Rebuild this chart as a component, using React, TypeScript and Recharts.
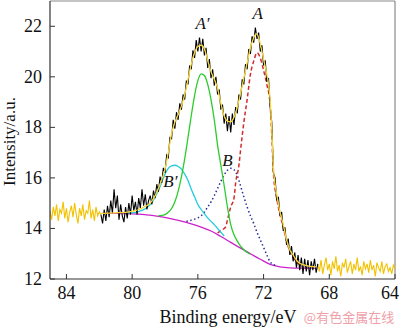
import React from 'react';
import { LineChart, Line, XAxis, YAxis, ReferenceLine, ReferenceDot } from 'recharts';

const SERIF = '"Liberation Serif", "Times New Roman", serif';

const xTicks = [84, 80, 76, 72, 68, 64];
const yTicks = [12, 14, 16, 18, 20, 22];

// raw spectrum, 0.1 eV steps from high to low binding energy
const rawLeftStart = 85.0;
const rawLeft = [
  14.7, 14.35, 14.85, 14.5, 14.95, 14.3, 14.75, 14.6, 15.05, 14.4,
  14.8, 14.25, 14.65, 14.9, 14.45, 15.0, 14.55, 14.2, 14.8, 14.5,
  14.95, 14.35, 14.7, 14.6, 15.1, 14.4, 14.75, 14.3, 14.85, 14.5,
  14.65, 14.55,
];

const rawMainStart = 81.9;
const rawMain = [
  14.55, 14.2, 14.75, 14.3, 14.9, 14.45, 15.1, 14.6, 15.55, 14.8,
  15.3, 14.35, 14.95, 14.5, 14.25, 14.85, 14.4, 15.0, 14.55, 15.3,
  14.7, 15.05, 14.55, 15.2, 14.8, 15.55, 14.9, 15.35, 14.75, 15.1,
  15.3, 14.95, 15.5, 15.2, 15.75, 15.45, 16.05, 15.8, 16.4, 16.2,
  16.9, 16.8, 17.6, 17.55, 18.3, 17.95, 18.6, 18.3, 18.95, 18.7,
  19.3, 19.1, 19.85, 19.7, 20.45, 20.3, 21.05, 20.75, 21.45, 21.0,
  21.55, 21.0, 21.5, 20.85, 21.15, 20.35, 20.7, 19.95, 20.3, 19.65,
  20.0, 19.3, 19.5, 18.7, 18.9, 18.15, 18.55, 17.85, 18.45, 17.8,
  18.55, 18.1, 18.8, 18.55, 19.3, 19.1, 19.9, 19.7, 20.5, 20.3,
  21.1, 20.9, 21.6, 21.35, 21.95, 21.5, 21.75, 21.0, 21.25, 20.45,
  20.65, 19.8, 19.95, 18.8, 18.2, 16.2, 16.0, 15.1, 15.25, 14.5,
  14.65, 13.9, 14.05, 13.35, 13.6, 12.95, 13.3, 12.7, 13.05, 12.45,
  12.95, 12.35, 12.85, 12.2, 12.8, 12.3, 12.75, 12.15, 12.7, 12.35,
  12.8, 12.25, 12.6,
];

const rawRightStart = 68.7;
const rawRight = [
  12.6, 12.3, 12.75, 12.2, 12.55, 12.85, 12.35, 12.6, 12.15, 12.7,
  12.4, 12.9, 12.3, 12.55, 12.1, 12.65, 12.45, 12.8, 12.25, 12.5,
  12.7, 12.2, 12.6, 12.35, 12.85, 12.3, 12.5, 12.15, 12.7, 12.4,
  12.6, 12.25, 12.75, 12.35, 12.55, 12.1, 12.65, 12.45, 12.3, 12.7,
  12.2, 12.5, 12.6, 12.3, 12.45, 12.2, 12.55, 12.4,
];

// fitted envelope and components: [binding energy, intensity]
const fitted = [
  [81.9, 14.6], [81.0, 14.62], [80.4, 14.64], [80.0, 14.68], [79.6, 14.75],
  [79.2, 14.87], [78.9, 15.0], [78.6, 15.3], [78.3, 15.75], [78.0, 16.35],
  [77.8, 17.0], [77.6, 17.75], [77.4, 18.2], [77.2, 18.5], [77.0, 18.85],
  [76.8, 19.3], [76.6, 19.9], [76.4, 20.5], [76.2, 20.95], [76.0, 21.2],
  [75.8, 21.25], [75.6, 21.1], [75.4, 20.65], [75.2, 20.2], [75.0, 19.9],
  [74.8, 19.55], [74.6, 18.95], [74.4, 18.45], [74.2, 18.25], [74.0, 18.22],
  [73.8, 18.4], [73.6, 18.8], [73.4, 19.35], [73.2, 19.95], [73.0, 20.55],
  [72.8, 21.15], [72.6, 21.55], [72.45, 21.7], [72.3, 21.55], [72.1, 21.0],
  [71.9, 20.4], [71.7, 19.7], [71.6, 19.1], [71.5, 17.9], [71.4, 16.4],
  [71.3, 15.75], [71.2, 15.35], [71.0, 14.65], [70.8, 14.15], [70.6, 13.55],
  [70.4, 13.15], [70.2, 12.95], [70.0, 12.75], [69.8, 12.62], [69.5, 12.55],
  [69.2, 12.5], [68.8, 12.48],
];

const background = [
  [81.8, 14.6], [81.2, 14.6], [80.6, 14.59], [80.0, 14.58], [79.4, 14.56],
  [78.8, 14.52], [78.2, 14.46], [77.6, 14.38], [77.0, 14.29], [76.4, 14.18],
  [75.8, 14.05], [75.2, 13.9], [74.6, 13.68], [74.0, 13.45], [73.4, 13.22],
  [72.8, 13.0], [72.2, 12.78], [71.6, 12.58], [71.0, 12.48], [70.4, 12.44],
  [69.8, 12.43], [69.2, 12.43], [68.8, 12.43],
];

const peakA2 = [
  [78.4, 14.5], [78.0, 14.55], [77.8, 14.64], [77.6, 14.79], [77.4, 15.06],
  [77.2, 15.47], [77.0, 16.04], [76.8, 16.76], [76.6, 17.6], [76.4, 18.47],
  [76.2, 19.26], [76.0, 19.85], [75.8, 20.12], [75.6, 20.05], [75.4, 19.7],
  [75.2, 19.1], [75.0, 18.3], [74.8, 17.3], [74.6, 16.5], [74.4, 15.7],
  [74.2, 14.85], [74.0, 14.15], [73.8, 13.75], [73.6, 13.5], [73.4, 13.3],
  [73.2, 13.16], [73.0, 13.05], [72.8, 12.98],
];

const peakA = [
  [74.8, 13.82], [74.6, 13.92], [74.4, 14.0], [74.3, 14.08], [74.2, 14.33],
  [74.0, 14.85], [73.8, 15.2], [73.7, 15.8], [73.5, 16.5], [73.4, 17.1],
  [73.2, 18.2], [73.0, 19.1], [72.8, 20.1], [72.6, 20.62], [72.4, 20.95],
  [72.2, 20.75], [72.0, 20.26], [71.8, 19.7], [71.6, 18.9], [71.5, 17.7],
  [71.4, 16.2], [71.2, 15.2], [71.0, 14.55], [70.8, 14.05], [70.6, 13.5],
  [70.4, 13.1], [70.2, 12.85], [70.0, 12.68], [69.8, 12.57], [69.6, 12.5],
];

const peakB = [
  [76.7, 14.28], [76.4, 14.33], [76.0, 14.42], [75.8, 14.5], [75.6, 14.65],
  [75.4, 14.85], [75.2, 15.05], [75.0, 15.3], [74.8, 15.58], [74.6, 15.86],
  [74.4, 16.12], [74.2, 16.3], [74.0, 16.38], [73.8, 16.32], [73.6, 16.1],
  [73.4, 15.68], [73.2, 15.25], [73.0, 14.85], [72.8, 14.5], [72.6, 14.2],
  [72.4, 13.85], [72.2, 13.55], [72.0, 13.25], [71.8, 12.95], [71.6, 12.68],
  [71.4, 12.57], [71.2, 12.52],
];

const peakB2 = [
  [80.4, 14.6], [80.0, 14.62], [79.6, 14.67], [79.2, 14.78], [78.8, 15.02],
  [78.6, 15.25], [78.4, 15.5], [78.2, 15.82], [78.0, 16.15], [77.8, 16.38],
  [77.6, 16.48], [77.4, 16.5], [77.2, 16.45], [77.0, 16.35], [76.8, 16.15],
  [76.6, 15.9], [76.4, 15.55], [76.2, 15.25], [76.0, 14.95], [75.8, 14.75],
  [75.6, 14.58], [75.4, 14.42], [75.2, 14.28], [75.0, 14.15], [74.8, 14.0],
  [74.6, 13.85], [74.4, 13.7],
];

const peakNames = ['A\u2032', 'A', 'B', 'B\u2032'];
const peakLabelAt = [[75.72, 22.12], [72.36, 22.53], [74.2, 16.7], [77.67, 15.87]];

const onGrid = (start: number, vals: number[]) =>
  vals.map((i, k) => ({ e: Math.round((start - k * 0.1) * 100) / 100, i }));
const toPts = (pairs: number[][]) => pairs.map(([e, i]) => ({ e, i }));

const XTick = ({ x, y, payload }: any) => {
  // keep the last label inside the page, like the original
  const atEdge = x > 385;
  return (
    <g>
      <line x1={x} x2={x} y1={y - 8} y2={y - 13} stroke="#333" />
      <text
        x={atEdge ? 399 : x}
        y={y + 12}
        textAnchor={atEdge ? 'end' : 'middle'}
        fontFamily={SERIF}
        fontSize={18}
        fill="#111"
      >
        {payload.value}
      </text>
    </g>
  );
};

const YTick = ({ x, y, payload }: any) => (
  <g>
    <line x1={x + 8} x2={x + 13} y1={y} y2={y} stroke="#333" />
    <text x={x} y={y + 6} textAnchor="end" fontFamily={SERIF} fontSize={18} fill="#111">
      {payload.value}
    </text>
  </g>
);

const PeakLabel = ({ viewBox, value }: any) => (
  <text
    x={viewBox.x}
    y={viewBox.y}
    dy="0.35em"
    textAnchor="middle"
    fontFamily={SERIF}
    fontStyle="italic"
    fontSize={17}
    fill="#111"
  >
    {value}
  </text>
);

const line = (key: string, data: any[], color: string, extra: any = {}) => (
  <Line
    key={key}
    data={data}
    dataKey="i"
    type="monotone"
    stroke={color}
    strokeWidth={1.3}
    dot={false}
    isAnimationActive={false}
    {...extra}
  />
);

export default function App() {
  return (
    <div style={{ position: 'absolute', left: 0, top: 0, width: 400, height: 328, background: '#fff' }}>
      <LineChart width={400} height={328} margin={{ top: 1, right: 5, bottom: 0, left: 0 }}>
        <XAxis
          type="number"
          dataKey="e"
          domain={[64, 85]}
          reversed
          allowDataOverflow
          ticks={xTicks}
          interval={0}
          height={49}
          tickSize={0}
          tickMargin={8}
          tickLine={false}
          axisLine={{ stroke: '#333', strokeWidth: 1.2 }}
          tick={(p: any) => <XTick {...p} />}
        />
        <YAxis
          type="number"
          domain={[12, 23]}
          allowDataOverflow
          ticks={yTicks}
          interval={0}
          width={50}
          tickSize={0}
          tickMargin={8}
          tickLine={false}
          axisLine={{ stroke: '#333', strokeWidth: 1.2 }}
          tick={(p: any) => <YTick {...p} />}
        />
        <ReferenceLine y={23} stroke="#8a8a8a" strokeWidth={1.2} />
        <ReferenceLine x={64} stroke="#8a8a8a" strokeWidth={1.2} />

        {line('bg', toPts(background), '#cc22cc')}
        {line('b', toPts(peakB), '#2a2a9c', { strokeDasharray: '1.5 2.5', strokeWidth: 1.5 })}
        {line('a', toPts(peakA), '#d42a2a', { strokeDasharray: '4 2.5', strokeWidth: 1.5 })}
        {line('b2', toPts(peakB2), '#22ccdd')}
        {line('a2', toPts(peakA2), '#2ccc2c')}
        {line('rawL', onGrid(rawLeftStart, rawLeft), '#f2c200', { type: 'linear', strokeWidth: 1.1 })}
        {line('rawR', onGrid(rawRightStart, rawRight), '#f2c200', { type: 'linear', strokeWidth: 1.1 })}
        {line('raw', onGrid(rawMainStart, rawMain), '#000', { type: 'linear', strokeWidth: 1.1 })}
        {line('fit', toPts(fitted), '#f7d83a', { strokeWidth: 1.3 })}

        {peakNames.map((name, k) => (
          <ReferenceDot
            key={name}
            x={peakLabelAt[k][0]}
            y={peakLabelAt[k][1]}
            r={0}
            fill="none"
            stroke="none"
            label={<PeakLabel value={name} />}
          />
        ))}
      </LineChart>
      <svg
        width={400}
        height={328}
        style={{ position: 'absolute', left: 0, top: 0, pointerEvents: 'none' }}
      >
        <text x={228} y={323} textAnchor="middle" fontFamily={SERIF} fontSize={18} fill="#111">
          Binding energy/eV
        </text>
        <text
          x={15}
          y={141.5}
          transform="rotate(-90 15 141.5)"
          textAnchor="middle"
          fontFamily={SERIF}
          fontSize={17}
          fill="#111"
        >
          Intensity/a.u.
        </text>
        <text x={349} y={322} textAnchor="middle" fontFamily='"Noto Sans CJK SC", sans-serif' fontSize={13} fill="#f0a0a8">
          @有色金属在线
        </text>
      </svg>
    </div>
  );
}
